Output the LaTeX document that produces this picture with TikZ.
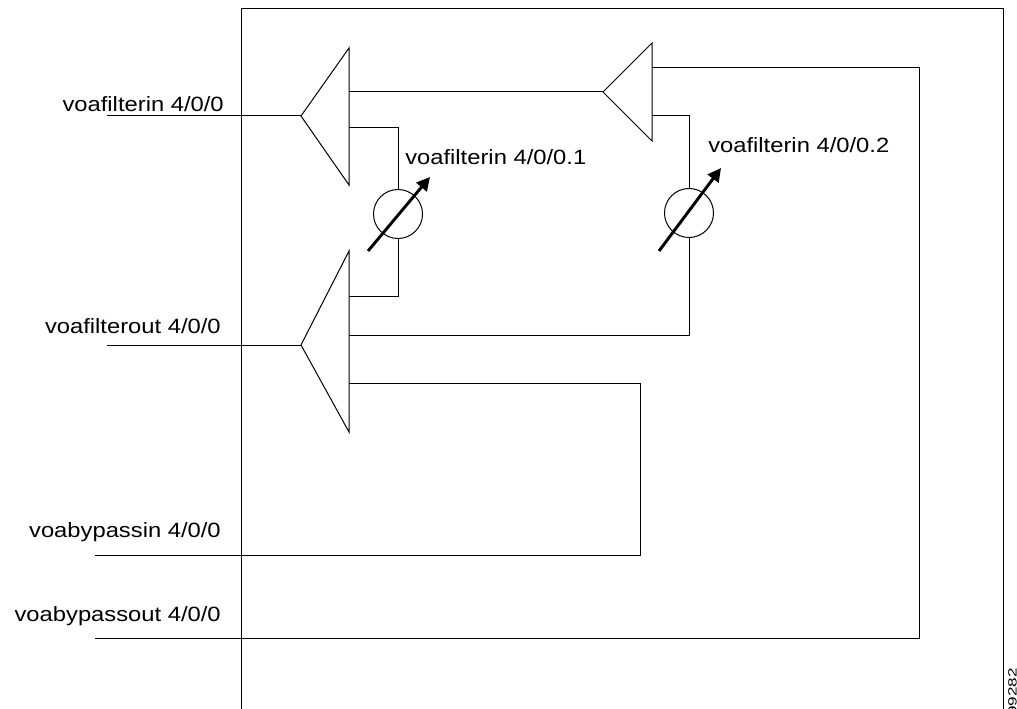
\documentclass[tikz,border=0pt]{standalone}
\usepackage{fontspec}
\setmainfont[FakeStretch=1.15]{Liberation Sans}
\newfontfamily\idfont[FakeStretch=1.42]{Liberation Sans}
\usetikzlibrary{arrows.meta}
\tikzset{
  wire/.style={draw=black,line width=0.75pt},
  voa/.style={circle,draw=black,line width=0.75pt,minimum size=36.75pt,inner sep=0pt},
  knob/.style={line width=2.2pt,-{Triangle[length=10pt,width=10pt]}},
  lbl/.style={inner sep=0pt,font=\fontsize{15.5pt}{18pt}\selectfont,anchor=base west},
  lblr/.style={lbl,anchor=base east}
}
\begin{document}
\begin{tikzpicture}[x=0.75pt,y=-0.75pt]
\useasboundingbox (0,0) rectangle (1017,709);
% chassis
\coordinate (bl) at (241,709);
\coordinate (tl) at (241,9);
\coordinate (tr) at (1003,9);
\coordinate (br) at (1003,709);
\draw[wire] (bl) -- (tl) -- (tr) -- (br);
% splitters
\coordinate (a1) at (301,116); \coordinate (a1t) at (349,48); \coordinate (a1b) at (349,185);
\coordinate (a2) at (301,345); \coordinate (a2t) at (349,251); \coordinate (a2b) at (349,432);
\coordinate (a3) at (603,92); \coordinate (a3t) at (652,43); \coordinate (a3b) at (652,141);
\draw[wire,line join=miter] (a1) -- (a1t) -- (a1b) -- cycle;
\draw[wire,line join=miter] (a2) -- (a2t) -- (a2b) -- cycle;
\draw[wire,line join=miter] (a3) -- (a3t) -- (a3b) -- cycle;
% attenuators
\node[voa] (v1) at (398,214) {};
\node[voa] (v2) at (689,213) {};
\coordinate (k1s) at (368,251); \coordinate (k1e) at (430,177);
\coordinate (k2s) at (659,251); \coordinate (k2e) at (721,168);
\draw[knob] (k1s) -- (k1e);
\draw[knob] (k2s) -- (k2e);
% free ends
\coordinate (in1) at (107,116);
\coordinate (in2) at (107,345);
\coordinate (in3) at (95,555);
\coordinate (in4) at (95,638);
\draw[wire] (in1) -- (a1);
\draw[wire] (in2) -- (a2);
\coordinate (p1) at (349,92);
\draw[wire] (p1) -- (a3);
\coordinate (p2) at (349,128);
\draw[wire] (p2) -| (v1.north);
\coordinate (p3) at (349,297);
\draw[wire] (v1.south) |- (p3);
\coordinate (p4) at (652,116);
\draw[wire] (p4) -| (v2.north);
\coordinate (p5) at (349,335);
\draw[wire] (v2.south) |- (p5);
\coordinate (p6) at (349,383);
\coordinate (c6) at (640,383);
\coordinate (c7) at (640,555);
\draw[wire] (p6) -- (c6) -- (c7) -- (in3);
\coordinate (p8) at (652,68);
\coordinate (c8) at (919,68);
\coordinate (c9) at (919,638);
\draw[wire] (p8) -- (c8) -- (c9) -- (in4);
% labels
\node[lblr] (l1) at (224,112) {voafilterin 4/0/0};
\node[lblr] (l2) at (221,333) {voafilterout 4/0/0};
\node[lblr] (l3) at (221,537) {voabypassin 4/0/0};
\node[lblr] (l4) at (221,621) {voabypassout 4/0/0};
\node[lbl] (l5) at (405,165) {voafilterin 4/0/0.1};
\node[lbl] (l6) at (708,153) {voafilterin 4/0/0.2};
\node[inner sep=0pt,rotate=90,anchor=base east,font=\idfont\fontsize{9pt}{10pt}\selectfont] (id) at (1016.5,668) {99282};
\end{tikzpicture}
\end{document}
